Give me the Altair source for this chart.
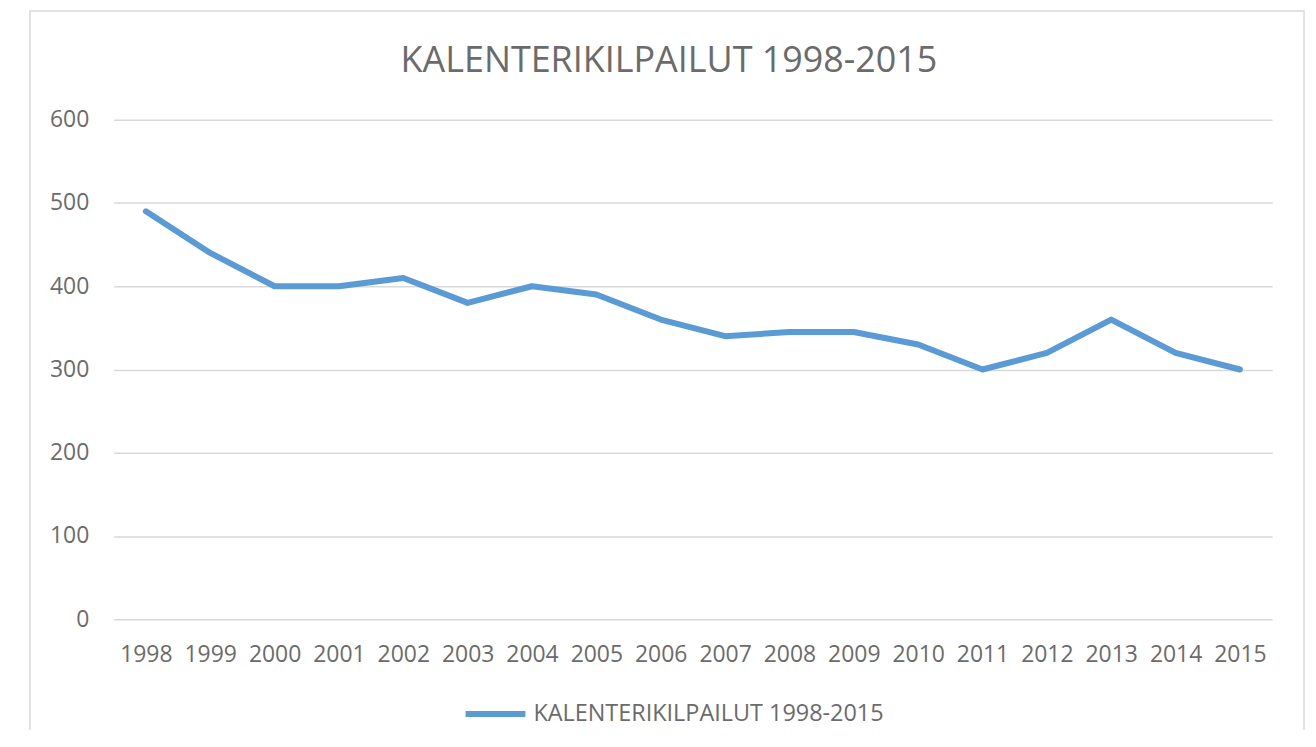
import altair as alt
import pandas as pd

years = [str(y) for y in range(1998, 2016)]
values = [490, 440, 400, 400, 410, 380, 400, 390, 360, 340, 345, 345, 330, 300, 320, 360, 320, 300]
series_name = "KALENTERIKILPAILUT 1998-2015"
title_text = "KALENTERIKILPAILUT 1998-2015"
y_ticks = [0, 100, 200, 300, 400, 500, 600]

df = pd.DataFrame({"year": years, "value": values, "series": [series_name] * len(years)})

FONT = "Open Sans"
GRAY = "#6b6b6b"

line = alt.Chart(df).mark_line(strokeWidth=6, strokeCap="round", strokeJoin="round").encode(
    x=alt.X("year:O", sort=years, scale=alt.Scale(type="point", padding=0.5),
            axis=alt.Axis(title=None, labelAngle=0, domain=False, ticks=False, grid=False,
                          labelPadding=24, labelFontSize=23, labelColor=GRAY, labelFont=FONT)),
    y=alt.Y("value:Q", scale=alt.Scale(domain=[0, 600], nice=False),
            axis=alt.Axis(title=None, values=y_ticks, domain=False, ticks=False, grid=True,
                          gridColor="#d9d9d9", gridWidth=1.4, labelPadding=25,
                          labelFontSize=23, labelColor=GRAY, labelFont=FONT)),
    color=alt.Color("series:N", scale=alt.Scale(range=["#5B9BD5"]),
                    legend=alt.Legend(title=None, orient="none", legendX=350, legendY=563,
                                      symbolType="stroke", symbolSize=3600, symbolStrokeWidth=6,
                                      labelFontSize=23.5, labelColor=GRAY, labelFont=FONT,
                                      labelOffset=5, labelLimit=600)),
)

frame = alt.Chart(pd.DataFrame({"a": [0]})).mark_rect(fill=None, stroke="#d9d9d9", strokeWidth=1.5).encode(
    x=alt.value(-84), x2=alt.value(1194), y=alt.value(-109), y2=alt.value(700)
)

chart = alt.layer(frame, line).properties(
    width=1162, height=501,
    padding={"left": 106, "top": 111, "right": 36, "bottom": 110},
    autosize=alt.AutoSizeParams(type="none"),
    title=alt.TitleParams(title_text, font=FONT, fontSize=36, fontWeight="normal", color=GRAY,
                          anchor="middle", dx=-24, offset=0, dy=70),
).configure_view(stroke=None)

chart.save("out.html", embed_options={"renderer": "svg", "actions": False})
